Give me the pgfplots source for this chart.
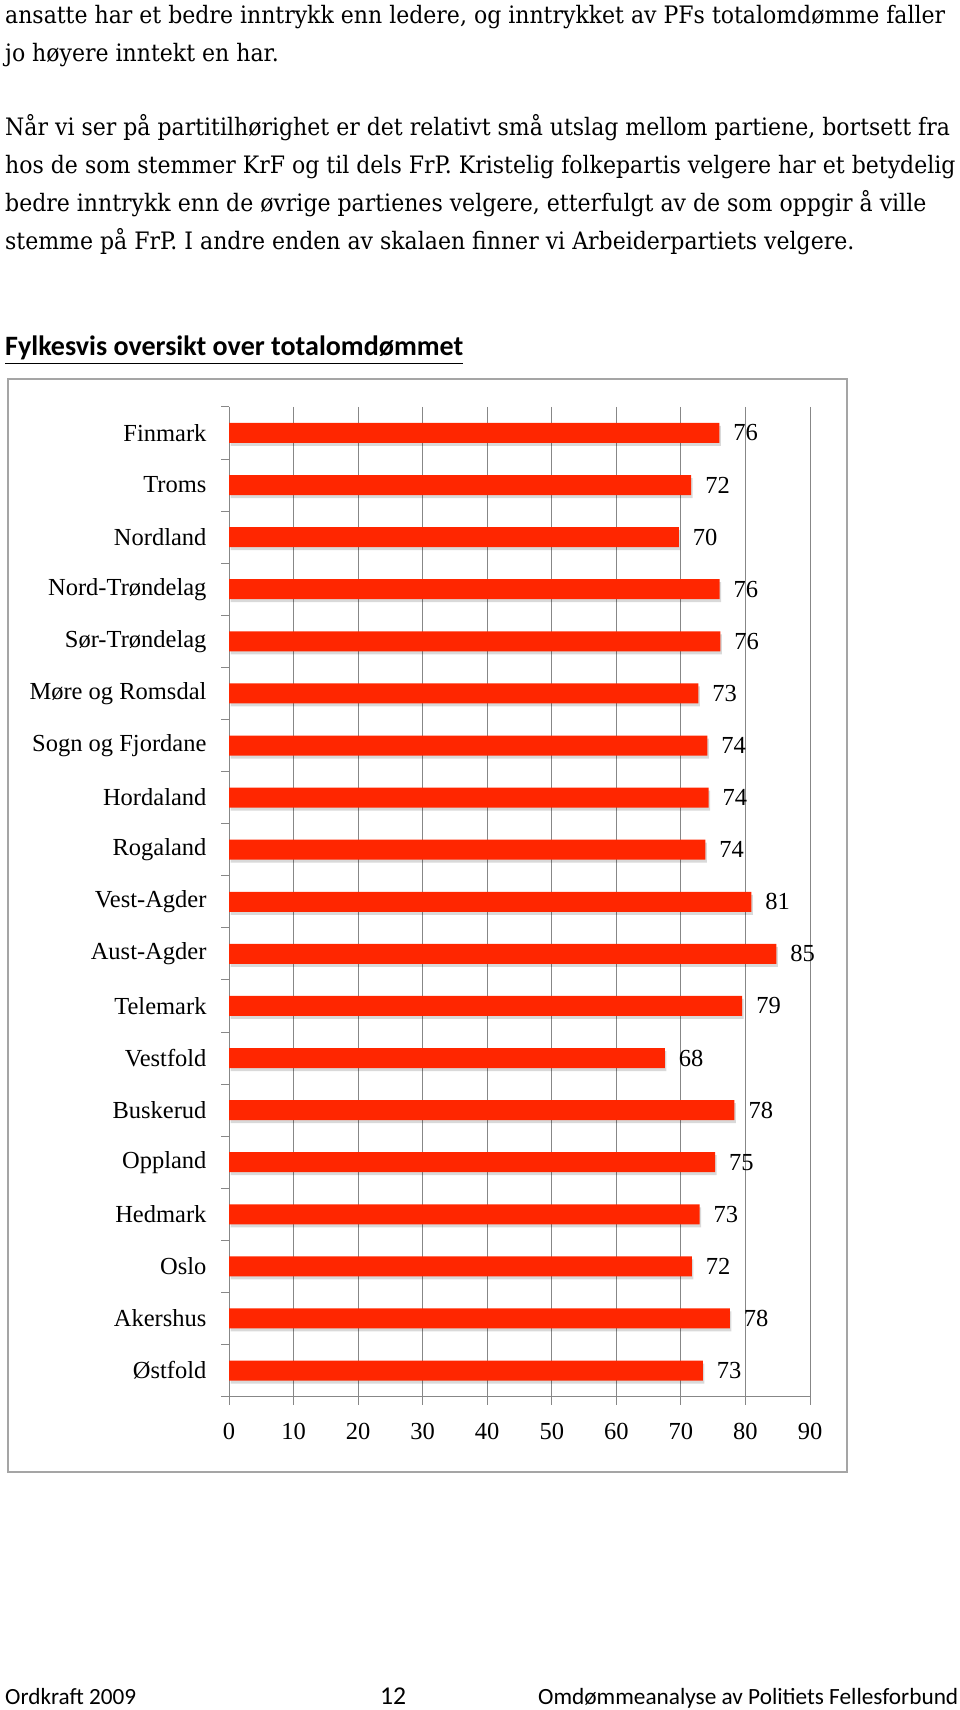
\documentclass[border=0pt]{standalone}
\usepackage{pgfplots}
\pgfplotsset{compat=1.18}
\usepackage{pgfplotstable}
\usepackage{graphicx}
\usepackage{fontspec}
\setmainfont{Liberation Serif}
\newfontfamily\bodyfont{DejaVu Serif}
\newfontfamily\calib{Carlito}
\definecolor{barred}{RGB}{255,38,0}
\definecolor{gridgray}{RGB}{135,135,135}
\definecolor{framegray}{RGB}{165,165,165}

\pgfplotstableread{
idx val lab
0 75.96 76
1 71.6 72
2 69.7 70
3 76.0 76
4 76.1 76
5 72.7 73
6 74.1 74
7 74.3 74
8 73.8 74
9 80.9 81
10 84.8 85
11 79.5 79
12 67.5 68
13 78.3 78
14 75.3 75
15 72.9 73
16 71.7 72
17 77.6 78
18 73.4 73
}\data

\newsavebox\linebox
\newcommand\bodyline[1]{\scalebox{\bodysx}[1]{\bodyfont\fontsize{24pt}{24pt}\selectfont #1}}

\begin{document}%
\sbox\linebox{\bodyfont\fontsize{24pt}{24pt}\selectfont ansatte har et bedre inntrykk enn ledere, og inntrykket av PFs totalomdømme faller}%
\edef\bodysx{\fpeval{940pt/(\the\wd\linebox)}}%
\begin{tikzpicture}
\path (0,0) rectangle (960pt,-1710pt);
\node[anchor=base west,inner sep=0] at (5pt,-24pt) {\bodyline{ansatte har et bedre inntrykk enn ledere, og inntrykket av PFs totalomdømme faller}};
\node[anchor=base west,inner sep=0] at (5pt,-62pt) {\bodyline{jo høyere inntekt en har.}};
\node[anchor=base west,inner sep=0] at (5pt,-135pt) {\bodyline{Når vi ser på partitilhørighet er det relativt små utslag mellom partiene, bortsett fra}};
\node[anchor=base west,inner sep=0] at (5pt,-173pt) {\bodyline{hos de som stemmer KrF og til dels FrP. Kristelig folkepartis velgere har et betydelig}};
\node[anchor=base west,inner sep=0] at (5pt,-211pt) {\bodyline{bedre inntrykk enn de øvrige partienes velgere, etterfulgt av de som oppgir å ville}};
\node[anchor=base west,inner sep=0] at (5pt,-249pt) {\bodyline{stemme på FrP. I andre enden av skalaen finner vi Arbeiderpartiets velgere.}};
\node[anchor=base west,inner sep=0] at (5pt,-355pt) {\resizebox{458pt}{!}{\calib\bfseries\underline{Fylkesvis oversikt over totalomdømmet}}};
\draw[framegray, line width=1.6pt] (8pt,-379pt) rectangle (847pt,-1472pt);
\begin{axis}[
  at={(229pt,-1396.6pt)}, anchor=south west,
  width=581pt, height=989.7pt, scale only axis,
  xmin=0, xmax=90, ymin=-0.5, ymax=18.5, y dir=reverse,
  axis x line*=bottom, axis y line*=left,
  axis line style={gridgray, line width=0.9pt},
  xtick={0,10,...,90}, xmajorgrids,
  major grid style={gridgray, line width=0.9pt},
  tick align=outside, major tick length=8pt,
  tick style={gridgray, line width=0.9pt},
  ytick={-0.5,0.5,...,18.5}, yticklabels={},
  extra y ticks={0,...,18},
  extra y tick labels={Finmark,Troms,Nordland,Nord-Trøndelag,Sør-Trøndelag,Møre og Romsdal,Sogn og Fjordane,Hordaland,Rogaland,Vest-Agder,Aust-Agder,Telemark,Vestfold,Buskerud,Oppland,Hedmark,Oslo,Akershus,Østfold},
  extra y tick style={tick style={draw=none}, yticklabel style={xshift=-11pt}},
  tick label style={font=\fontsize{24.5pt}{24.5pt}\selectfont, text=black},
  xticklabel style={yshift=-15pt},
  /pgf/number format/assume math mode=true,
  clip=false,
]
\addplot[xbar, bar shift=0pt, bar width=20pt, fill=black, opacity=0.15, draw=none, forget plot, xshift=1.5pt, yshift=-3pt]
  table[x=val, y=idx]{\data};
\addplot[xbar, bar shift=0pt, bar width=20pt, fill=barred, draw=none,
  nodes near coords, point meta=explicit symbolic,
  every node near coord/.append style={font=\fontsize{24.5pt}{24.5pt}\selectfont, text=black, anchor=west, xshift=10.5pt}]
  table[x=val, y=idx, meta=lab]{\data};
\end{axis}
\node[anchor=base west,inner sep=0] at (5pt,-1704pt) {\resizebox{131pt}{!}{\calib Ordkraft 2009}};
\node[anchor=base west,inner sep=0] at (380pt,-1704pt) {\resizebox{26pt}{!}{\calib 12}};
\node[anchor=base west,inner sep=0] at (538pt,-1704pt) {\resizebox{420pt}{!}{\calib Omdømmeanalyse av Politiets Fellesforbund}};
\end{tikzpicture}%
\end{document}
